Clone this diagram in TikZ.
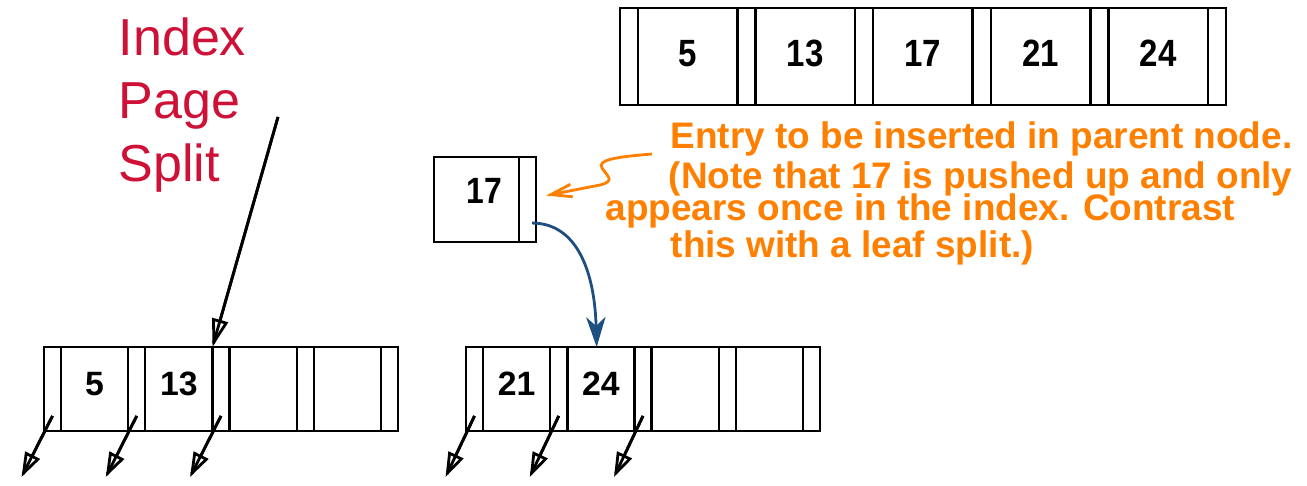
\documentclass[tikz,border=0pt]{standalone}
\usepackage{fontspec}
\setmainfont{Liberation Sans}
\newfontfamily\cellfont[FakeStretch=0.87]{Liberation Sans}
\usepackage{xcolor}
\usepackage{tikz}
\usetikzlibrary{positioning,arrows.meta}

\definecolor{splitred}{RGB}{206,17,55}
\definecolor{noteorange}{RGB}{255,128,0}
\definecolor{linkblue}{RGB}{31,78,128}

\tikzset{
    cell/.style = {draw, line width=0.7pt, inner sep=0pt, outer sep=0pt},
    toppage/.style = {minimum height=9.7mm, text depth=1.7pt,
                      font=\cellfont\bfseries\fontsize{10.8}{12}\selectfont},
    lowpage/.style = {minimum height=8.4mm, text depth=3.2pt,
                      font=\bfseries\fontsize{9.6}{11}\selectfont},
    childptr/.style = {line width=0.8pt, -{Triangle[open,length=7pt,width=4.6pt]},
                       postaction={draw, arrows=-, shorten >=1pt}},
}

\begin{document}
\begin{tikzpicture}[x=0.01cm, y=-0.01cm]
        \useasboundingbox (0,0) rectangle (1307,485);

        % parent index page
        \node[cell, toppage, minimum width=1.8mm, anchor=north west] (t-p0) at (620,8) {};
        \foreach \v [count=\i] in {5,13,17,21,24} {
            \pgfmathtruncatemacro\j{\i-1}
            \node[cell, toppage, minimum width=9.95mm, right=0pt of t-p\j] (t-k\i) {\v};
            \node[cell, toppage, minimum width=1.8mm, right=0pt of t-k\i] (t-p\i) {};
        }

        % left half of the split page
        \node[cell, lowpage, minimum width=1.7mm, anchor=north west] (l-p0) at (44,347) {};
        \foreach \v [count=\i] in {5,13,{},{}} {
            \pgfmathtruncatemacro\j{\i-1}
            \node[cell, lowpage, minimum width=6.72mm, right=0pt of l-p\j] (l-k\i) {\v};
            \node[cell, lowpage, minimum width=1.7mm, right=0pt of l-k\i] (l-p\i) {};
        }

        % right half of the split page
        \node[cell, lowpage, minimum width=1.7mm, anchor=north west] (r-p0) at (466,347) {};
        \foreach \v [count=\i] in {21,24,{},{}} {
            \pgfmathtruncatemacro\j{\i-1}
            \node[cell, lowpage, minimum width=6.72mm, right=0pt of r-p\j] (r-k\i) {\v};
            \node[cell, lowpage, minimum width=1.7mm, right=0pt of r-k\i] (r-p\i) {};
        }

        % entry pushed up
        \node[cell, minimum width=8.5mm, minimum height=8.5mm, anchor=north west, text depth=5pt,
              font=\cellfont\bfseries\fontsize{10.4}{12}\selectfont] (up-k) at (434,157) {\hspace*{4.5pt}17};
        \node[cell, minimum width=1.7mm, minimum height=8.5mm, right=0pt of up-k] (up-p) {};

        % child pointers
        \foreach \i in {0,1,2} {
            \draw[childptr] ([yshift=4.3pt]l-p\i.south) -- ([shift={(-31,46)}]l-p\i.south);
            \draw[childptr] ([yshift=4.3pt]r-p\i.south) -- ([shift={(-29,46)}]r-p\i.south);
        }

        % labels
        \node[splitred, anchor=north west, inner sep=0pt, align=left,
              font=\fontsize{14.8}{17.9}\selectfont] (split) at (118,17) {Index\\Page\\Split};
        \coordinate (split-from) at (278,117);
        \draw[line width=0.8pt, -{Triangle[open,length=8pt,width=4.6pt]},
              postaction={draw, arrows=-, shorten >=1pt}] (split-from) -- (l-p2.north west);

        \begin{scope}[noteorange, font=\bfseries\fontsize{10.5}{12}\selectfont, inner sep=0pt]
            \node[anchor=base west] (note1) at (670,149) {Entry to be inserted in parent node.};
            \node[anchor=base west] (note2) at (668,189) {(Note that 17 is pushed up and only};
            \node[anchor=base west] (note3) at (605,220) {appears once in the index. Contrast};
            \node[anchor=base west] (note4) at (670,257) {this with a leaf split.)};
        \end{scope}
        \coordinate (note-from) at (652,154);
        \draw[noteorange, line width=0.8pt, -{Straight Barb[length=6pt,width=3.6pt]}]
            (note-from) .. controls (615,157) and (597,160) .. (602,168)
            .. controls (607,176) and (616,181) .. (600,185) -- ([shift={(10,-4)}]up-p.east);

        \draw[linkblue, line width=0.8pt, -{Stealth[length=8.5pt,width=5.5pt,inset=2.5pt]}]
            ([shift={(-4,-19)}]up-p.south east) .. controls +(45,0) and +(-2,-75) .. ([xshift=-1.2pt]r-k2.north);
\end{tikzpicture}
\end{document}
